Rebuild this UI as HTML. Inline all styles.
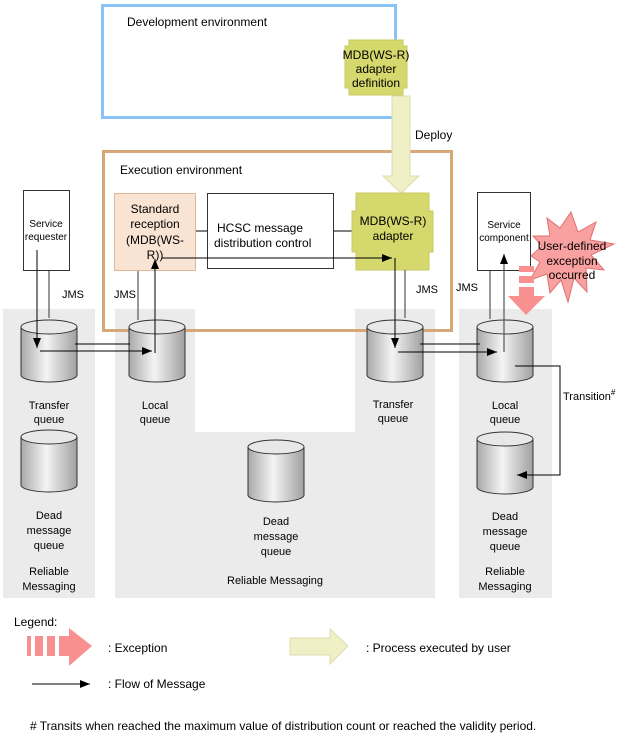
<!DOCTYPE html>
<html><head><meta charset="utf-8"><style>
body{margin:0;background:#fff}
svg{display:block;font-family:"Liberation Sans",sans-serif}
</style></head><body>
<svg width="625" height="736" viewBox="0 0 625 736" xmlns="http://www.w3.org/2000/svg">
<defs>
<linearGradient id="cg" x1="0" x2="1" y1="0" y2="0">
<stop offset="0" stop-color="#a8a8a8"/><stop offset="0.45" stop-color="#f4f4f4"/><stop offset="1" stop-color="#a0a0a0"/>
</linearGradient>
<marker id="ah" markerWidth="10" markerHeight="8" refX="10" refY="4" orient="auto" markerUnits="userSpaceOnUse">
<path d="M0,0 L10,4 L0,8 z" fill="#000"/></marker>
<g id="cyl">
<path d="M0,7 L0,55 A28,7 0 0 0 56,55 L56,7 Z" fill="url(#cg)" stroke="#333" stroke-width="1"/>
<ellipse cx="28" cy="7" rx="28" ry="7" fill="#e8e8e8" stroke="#333" stroke-width="1"/>
</g>
</defs>
<!-- gray regions -->
<rect x="3" y="309" width="92" height="289" fill="#ebebeb"/>
<path d="M115,309 H195 V432 H355 V309 H435 V598 H115 Z" fill="#ebebeb"/>
<rect x="459" y="309" width="93" height="289" fill="#ebebeb"/>
<!-- dev env -->
<rect x="102.5" y="5.5" width="293" height="112" fill="none" stroke="#88c4f8" stroke-width="3"/>
<text x="127" y="26" font-size="12">Development environment</text>
<path d="M349,40 H403 V46 H407 V88 H403 V95 H349 V88 H345 V46 H349 Z" fill="#d5d86c" stroke="#c8ca60"/>
<text font-size="12" text-anchor="middle"><tspan x="376" y="59">MDB(WS-R)</tspan><tspan x="376" y="73">adapter</tspan><tspan x="376" y="87">definition</tspan></text>
<!-- exec env -->
<rect x="103.5" y="151.5" width="348" height="179" fill="none" stroke="#d6a878" stroke-width="3"/>
<text x="120" y="174" font-size="12">Execution environment</text>
<!-- deploy arrow -->
<path d="M392,96 H410 V176 H419 L401,193 L383,176 H392 Z" fill="#f0f0c6" stroke="#dcdcb0"/>
<text x="415" y="139" font-size="12">Deploy</text>
<!-- standard reception -->
<rect x="114.5" y="193.5" width="81" height="77" fill="#f9e4d4" stroke="#dcb898"/>
<text font-size="12" text-anchor="middle"><tspan x="155" y="213">Standard</tspan><tspan x="155" y="228">reception</tspan><tspan x="155" y="244">(MDB(WS-</tspan><tspan x="155" y="259">R))</tspan></text>
<rect x="207.5" y="193.5" width="126" height="75" fill="#fff" stroke="#333"/>
<text font-size="12"><tspan x="217" y="232">HCSC message</tspan><tspan x="214" y="247">distribution control</tspan></text>
<line x1="196" y1="231" x2="207" y2="231" stroke="#000"/>
<line x1="334" y1="231" x2="353" y2="231" stroke="#000"/>
<path d="M356,193 H429 V211 H433 V252 H429 V270 H356 V252 H352 V211 H356 Z" fill="#d5d86c" stroke="#c8ca60"/>
<text font-size="12" text-anchor="middle"><tspan x="393" y="225">MDB(WS-R)</tspan><tspan x="393" y="240">adapter</tspan></text>
<!-- service requester/component -->
<rect x="23.5" y="190.5" width="46" height="80" fill="#fff" stroke="#333"/>
<text font-size="10" text-anchor="middle"><tspan x="46" y="227">Service</tspan><tspan x="46" y="240">requester</tspan></text>
<rect x="477.5" y="192.5" width="53" height="78" fill="#fff" stroke="#333"/>
<text font-size="10" text-anchor="middle"><tspan x="504" y="228">Service</tspan><tspan x="504" y="241">component</tspan></text>
<!-- starburst -->
<polygon points="571,212 578,232 596,222 590,240 614,244 591,255 604,270 586,268 587,292 574,278 568,302 561,280 550,293 547,274 530,280 540,262 531,256 542,246 533,236 550,236 547,218 560,228" fill="#f9a0a0" stroke="#e07070"/>
<text font-size="12" text-anchor="middle"><tspan x="572" y="250">User-defined</tspan><tspan x="572" y="265">exception</tspan><tspan x="572" y="279">occurred</tspan></text>
<!-- exception arrow -->
<g fill="#f89090"><rect x="519" y="266" width="15" height="6"/><rect x="519" y="276" width="15" height="7"/><rect x="519" y="287" width="15" height="9"/><polygon points="508,296 545,296 526,315"/></g>
<!-- cylinders -->
<use href="#cyl" x="21" y="320"/><use href="#cyl" x="129" y="320"/>
<use href="#cyl" x="367" y="320"/><use href="#cyl" x="477" y="320"/>
<use href="#cyl" x="21" y="430"/><use href="#cyl" x="248" y="440"/><use href="#cyl" x="477" y="432"/>
<!-- labels -->
<g font-size="11" text-anchor="middle">
<text x="49" y="409">Transfer</text><text x="49" y="423">queue</text>
<text x="155" y="409">Local</text><text x="155" y="423">queue</text>
<text x="393" y="408">Transfer</text><text x="393" y="422">queue</text>
<text x="505" y="409">Local</text><text x="505" y="423">queue</text>
<text x="49" y="519">Dead</text><text x="49" y="534">message</text><text x="49" y="549">queue</text>
<text x="49" y="575">Reliable</text><text x="49" y="590">Messaging</text>
<text x="276" y="525">Dead</text><text x="276" y="540">message</text><text x="276" y="555">queue</text>
<text x="275" y="584">Reliable Messaging</text>
<text x="505" y="520">Dead</text><text x="505" y="535">message</text><text x="505" y="550">queue</text>
<text x="505" y="575">Reliable</text><text x="505" y="590">Messaging</text>
</g>
<g font-size="11"><text x="62" y="298">JMS</text><text x="114" y="298">JMS</text><text x="416" y="293">JMS</text><text x="456" y="291">JMS</text>
<text x="563" y="400">Transition<tspan font-size="8" dy="-5">#</tspan></text></g>
<!-- connectors -->
<g stroke="#555" stroke-width="1.2" fill="none">
<line x1="49" y1="271" x2="49" y2="318"/><line x1="138" y1="271" x2="138" y2="320"/>
<line x1="405" y1="270" x2="405" y2="318"/><line x1="490" y1="271" x2="490" y2="319"/>
</g>
<g stroke="#000" stroke-width="1" fill="none">
<line x1="37" y1="250" x2="37" y2="348" marker-end="url(#ah)"/>
<line x1="75" y1="344" x2="130" y2="344"/>
<line x1="40" y1="351" x2="152" y2="351" marker-end="url(#ah)"/>
<line x1="155" y1="353" x2="155" y2="259" marker-end="url(#ah)"/>
<line x1="162" y1="258" x2="392" y2="258" marker-end="url(#ah)"/>
<line x1="395" y1="258" x2="395" y2="348" marker-end="url(#ah)"/>
<line x1="420" y1="344" x2="480" y2="344"/>
<line x1="398" y1="352" x2="497" y2="352" marker-end="url(#ah)"/>
<polyline points="515,366 560,366 560,475 517,475" marker-end="url(#ah)"/>
</g>
<line x1="504" y1="352" x2="504" y2="254" stroke="#555" stroke-width="1.2" marker-end="url(#ah)"/>
<!-- legend -->
<text x="14" y="626" font-size="12">Legend:</text>
<g fill="#f89090"><rect x="27" y="636" width="4" height="20"/><rect x="35" y="636" width="8" height="20"/><rect x="47" y="636" width="8" height="20"/><rect x="59" y="636" width="10" height="20"/><polygon points="69,628 92,646 69,666"/></g>
<text x="108" y="652" font-size="12">: Exception</text>
<path d="M290,638 H330 V629 L348,646 L330,664 V655 H290 Z" fill="#f0f0c6" stroke="#dcdcb0"/>
<text x="366" y="652" font-size="12">: Process executed by user</text>
<line x1="32" y1="684" x2="90" y2="684" stroke="#000" marker-end="url(#ah)"/>
<text x="108" y="688" font-size="12">: Flow of Message</text>
<text x="30" y="730" font-size="12"># Transits when reached the maximum value of distribution count or reached the validity period.</text>
</svg>
</body></html>
